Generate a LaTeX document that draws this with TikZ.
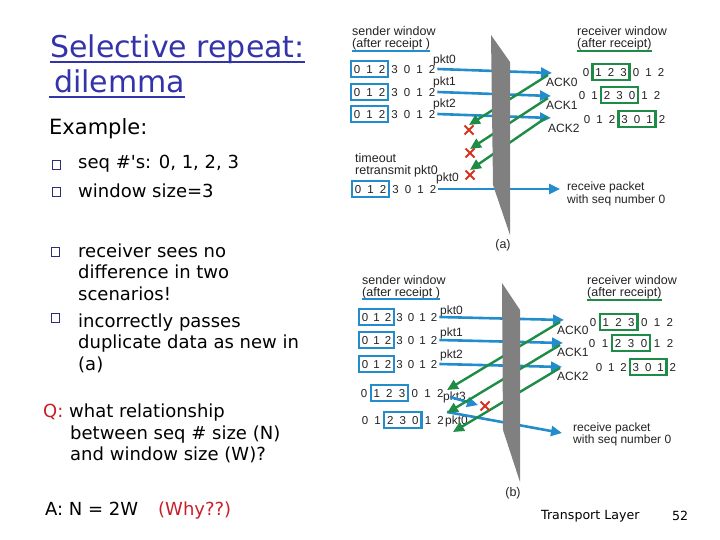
\documentclass[tikz,border=0pt]{standalone}
\usepackage{fontspec}
\setmainfont{Liberation Sans}
\newfontfamily\comic{DejaVu Sans}
\usetikzlibrary{arrows.meta,shapes.misc}
\definecolor{titleblue}{RGB}{51,51,170}
\definecolor{bulblue}{RGB}{45,45,120}
\definecolor{pktblue}{RGB}{35,140,205}
\definecolor{ackgreen}{RGB}{30,140,70}
\definecolor{xred}{RGB}{215,50,30}
\definecolor{qred}{RGB}{200,30,40}
\definecolor{wallgray}{RGB}{128,128,128}
\definecolor{txt}{RGB}{35,35,35}
\newcommand\seqrow[6]{%
  \foreach \d [count=\k from 0] in {0,1,2,3,0,1,2}{\node[dg] (#1-\k) at ({#2+\k*#4},#3) {\d};}
  \node[#6, minimum width={2*#4pt+12pt}] (#1-box) at ({#2+#5*#4},#3) {};
}
\begin{document}
\begin{tikzpicture}[x=1pt,y=-1pt,
  dg/.style={font=\fontsize{11.5}{11.5}\selectfont, inner sep=0pt, text height=8.2pt, text depth=0pt, text=txt},
  lbl/.style={font=\fontsize{12}{12}\selectfont, inner sep=0pt, anchor=west, text=txt},
  lblb/.style={font=\fontsize{12}{12}\selectfont, inner sep=0pt, anchor=base west, text=txt},
  hdr/.style={font=\fontsize{12.5}{12.5}\selectfont, inner sep=0pt, anchor=west, text=txt},
  sbox/.style={draw=pktblue, line width=2.4pt, minimum height=16pt, inner sep=0pt},
  rbox/.style={draw=ackgreen, line width=2.2pt, minimum height=16pt, inner sep=0pt},
  pktarrow/.style={draw=pktblue, line width=2.6pt, -{Triangle[length=11pt,width=10pt]}},
  ackarrow/.style={draw=ackgreen, line width=2.4pt, -{Triangle[length=11pt,width=10pt]}},
  xmark/.style={cross out, draw=xred, line width=2pt, minimum size=7pt, inner sep=0pt},
  wall/.style={fill=wallgray},
  sul/.style={draw=pktblue, line width=1.4pt},
  rul/.style={draw=ackgreen, line width=1.4pt},
  ltxt/.style={font=\comic\fontsize{18}{18}\selectfont, inner sep=0pt, anchor=base west},
  bul/.style={draw=bulblue, line width=1.4pt, minimum size=8.5pt, inner sep=0pt},
  ul/.style={draw=titleblue, line width=1.6pt},
]
\useasboundingbox (0,0) rectangle (720,540);

% ---------------- left text ----------------
\node[font=\comic\fontsize{30}{30}\selectfont, text=titleblue, inner sep=0pt, anchor=base west] (t1) at (50,58) {Selective repeat:};
\node[font=\comic\fontsize{30}{30}\selectfont, text=titleblue, inner sep=0pt, anchor=base west] (t2) at (54,93) {dilemma};
\draw[ul] ([yshift=-4pt]t1.base west) -- ([yshift=-4pt]t1.base east);
\draw[ul] ([xshift=-5pt,yshift=-4pt]t2.base west) -- ([yshift=-4pt]t2.base east);
\node[font=\comic\fontsize{21}{21}\selectfont, inner sep=0pt, anchor=base west] (ex) at (49,135) {Example:};
\node[bul] (b1) at (56.5,165) {};
\node[ltxt] (l1) at (78,169) {seq \#'s: 0, 1, 2, 3};
\node[bul] (b2) at (56.5,192) {};
\node[ltxt] (l2) at (78,197) {window size=3};
\node[bul] (b3) at (55.5,252) {};
\node[ltxt] (l3) at (78,257) {receiver sees no};
\node[ltxt] (l4) at (78,278) {difference in two};
\node[ltxt] (l5) at (78,300) {scenarios!};
\node[bul] (b4) at (55.5,318) {};
\node[ltxt] (l6) at (78,327) {incorrectly passes};
\node[ltxt] (l7) at (78,348) {duplicate data as new in};
\node[ltxt] (l8) at (78,370) {(a)};
\node[ltxt] (q1) at (43,417) {\textcolor{qred}{Q:} what relationship};
\node[ltxt] (q2) at (70,439) {between seq \# size (N)};
\node[ltxt] (q3) at (70,460) {and window size (W)?};
\node[ltxt] (a1) at (45,515) {A: N = 2W};
\node[ltxt, text=qred] (a2) at (158,515) {(Why??)};
\node[font=\comic\fontsize{12.6}{12.6}\selectfont, inner sep=0pt, anchor=west] (tl) at (541,516) {Transport Layer};
\node[font=\comic\fontsize{12.6}{12.6}\selectfont, inner sep=0pt, anchor=west] (pg) at (672,516) {52};

% ---------------- diagram (a) ----------------
\node[hdr] (as-h1) at (352,31) {sender window};
\node[hdr] (as-h2) at (352,44) {(after receipt )};
\draw[sul] (352,51) -- (as-h2.east |- 0,51);
\node[hdr] (ar-h1) at (577,31) {receiver window};
\node[hdr] (ar-h2) at (577,44) {(after receipt)};
\draw[rul] (577,51) -- (ar-h2.east |- 0,51);

\seqrow{as1}{357}{69}{12.5}{1}{sbox}
\seqrow{as2}{357}{92}{12.5}{1}{sbox}
\seqrow{as3}{357}{114}{12.5}{1}{sbox}
\seqrow{as4}{358}{189}{12.5}{1}{sbox}
\seqrow{ar1}{586}{72}{12.5}{2}{rbox}
\seqrow{ar2}{582}{95}{12.5}{3}{rbox}
\seqrow{ar3}{587}{119}{12.5}{4}{rbox}

\node[lblb] (ap0) at (433,64) {pkt0};
\node[lblb] (ap1) at (433,86) {pkt1};
\node[lblb] (ap2) at (433,108) {pkt2};
\node[lbl] (aack0) at (546,82) {ACK0};
\node[lbl] (aack1) at (546,105) {ACK1};
\node[lbl] (aack2) at (548,128) {ACK2};
\node[hdr] (ato) at (355,158) {timeout};
\node[hdr] (are) at (355,171) {retransmit pkt0};
\node[lblb] (ap0b) at (436,182) {pkt0};
\node[lbl] (arc1) at (567,187) {receive packet};
\node[lbl] (arc2) at (567,200) {with seq number 0};
\node[font=\fontsize{12.5}{12.5}\selectfont, inner sep=0pt, text=txt] (acap) at (503,245) {(a)};

\coordinate (a-t1) at (552,73);
\coordinate (a-t2) at (551,96);
\coordinate (a-t3) at (551,118);
\coordinate (a-t4) at (560,189);
\coordinate (a-k1s) at (548,75);
\coordinate (a-k2s) at (548,98);
\coordinate (a-k3s) at (547,117);
\coordinate (a-k1e) at (469,125);
\coordinate (a-k2e) at (470,149);
\coordinate (a-k3e) at (470,170);
\draw[pktarrow] ([xshift=2pt]as1-6.east) -- (a-t1);
\draw[pktarrow] ([xshift=2pt]as2-6.east) -- (a-t2);
\draw[pktarrow] ([xshift=2pt]as3-6.east) -- (a-t3);
\draw[pktarrow] ([xshift=2pt]as4-6.east) -- (a-t4);
\draw[ackarrow] (a-k1s) -- (a-k1e);
\draw[ackarrow] (a-k2s) -- (a-k2e);
\draw[ackarrow] (a-k3s) -- (a-k3e);
\fill[wall] (491,35) -- (510,62) -- (510,235) -- (493,185) -- cycle;
\node[xmark] (ax1) at (469,130) {};
\node[xmark] (ax2) at (470,153) {};
\node[xmark] (ax3) at (470,175) {};

% ---------------- diagram (b) ----------------
\node[hdr] (bs-h1) at (362,280) {sender window};
\node[hdr] (bs-h2) at (362,293) {(after receipt )};
\draw[sul] (362,299) -- (bs-h2.east |- 0,299);
\node[hdr] (br-h1) at (587,280) {receiver window};
\node[hdr] (br-h2) at (587,293) {(after receipt)};
\draw[rul] (587,300) -- (br-h2.east |- 0,300);

\seqrow{bs1}{365}{317}{11.5}{1}{sbox}
\seqrow{bs2}{365}{340}{11.5}{1}{sbox}
\seqrow{bs3}{365}{364}{11.5}{1}{sbox}
\seqrow{bs4}{364}{393}{12.7}{2}{sbox}
\seqrow{bs5}{365}{420}{12.6}{3}{sbox}
\seqrow{br1}{593}{322}{12.8}{2}{rbox}
\seqrow{br2}{592}{343}{13}{3}{rbox}
\seqrow{br3}{599}{367}{12.3}{4}{rbox}

\node[lblb] (bp0) at (440,314) {pkt0};
\node[lblb] (bp1) at (440,336) {pkt1};
\node[lblb] (bp2) at (440,358) {pkt2};
\node[lblb] (bp3) at (443,400) {pkt3};
\node[lblb] (bp0b) at (445,424) {pkt0};
\node[lbl] (back0) at (557,330) {ACK0};
\node[lbl] (back1) at (557,352) {ACK1};
\node[lbl] (back2) at (557,376) {ACK2};
\node[lbl] (brc1) at (573,428) {receive packet};
\node[lbl] (brc2) at (573,440) {with seq number 0};
\node[font=\fontsize{12.5}{12.5}\selectfont, inner sep=0pt, text=txt] (bcap) at (513,493) {(b)};

\coordinate (b-t1) at (564,320);
\coordinate (b-t2) at (563,343);
\coordinate (b-t3) at (562,367);
\coordinate (b-p3s) at (450,397);
\coordinate (b-p3e) at (478,405);
\coordinate (b-p0s) at (447,412);
\coordinate (b-p0e) at (562,433);
\coordinate (b-k1s) at (560,322);
\coordinate (b-k2s) at (560,345);
\coordinate (b-k3s) at (560,368);
\coordinate (b-k1e) at (447,390);
\coordinate (b-k2e) at (447,413);
\coordinate (b-k3e) at (453,432);
\draw[pktarrow] ([xshift=2pt]bs1-6.east) -- (b-t1);
\draw[pktarrow] ([xshift=2pt]bs2-6.east) -- (b-t2);
\draw[pktarrow] ([xshift=2pt]bs3-6.east) -- (b-t3);
\draw[pktarrow] (b-p3s) -- (b-p3e);
\draw[pktarrow] (b-p0s) -- (b-p0e);
\draw[ackarrow] (b-k1s) -- (b-k1e);
\draw[ackarrow] (b-k2s) -- (b-k2e);
\draw[ackarrow] (b-k3s) -- (b-k3e);
\fill[wall] (502,283) -- (520,310) -- (520,482) -- (503,430) -- cycle;
\node[xmark] (bx1) at (485,406) {};
\end{tikzpicture}
\end{document}
